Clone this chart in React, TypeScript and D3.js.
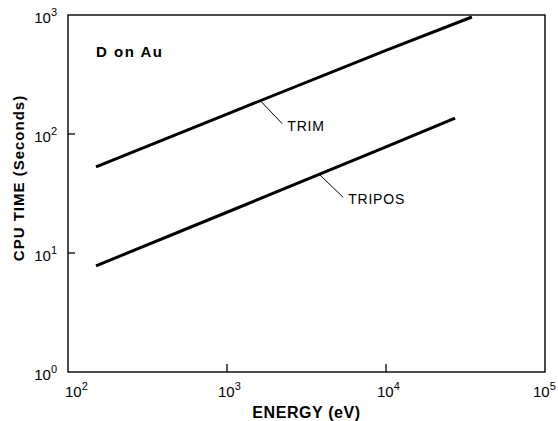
import React from 'react';
import * as d3 from 'd3';

// energies in eV, CPU times in seconds
const trimEnergy = [150, 1000, 10000, 34700];
const trimTime = [53, 147, 505, 962];
const triposEnergy = [150, 1000, 10000, 27200];
const triposTime = [7.8, 22, 78, 136];

const xTickExps = [2, 3, 4, 5];
const yTickExps = [0, 1, 2, 3];

const width = 558;
const height = 421;
const margin = { top: 15, right: 13, bottom: 49, left: 68 };

const App = () => {
  const x = d3.scaleLog().domain([1e2, 1e5]).range([margin.left, width - margin.right]);
  const y = d3.scaleLog().domain([1, 1e3]).range([height - margin.bottom, margin.top]);

  const line = d3.line<[number, number]>()
    .x(d => x(d[0]))
    .y(d => y(d[1]));

  const trim = trimEnergy.map((e, i) => [e, trimTime[i]] as [number, number]);
  const tripos = triposEnergy.map((e, i) => [e, triposTime[i]] as [number, number]);

  // pixel point on a drawn series at a given energy
  const at = (energy: number[], time: number[], e: number) => {
    const f = d3.scaleLog().domain(energy).range(time.map(t => y(t)));
    return [x(e), f(e)];
  };
  const trimAnchor = at(trimEnergy, trimTime, 1620);
  const triposAnchor = at(triposEnergy, triposTime, 3800);

  const x0 = x.range()[0], x1 = x.range()[1];
  const y0 = y.range()[0], y1 = y.range()[1];
  const font = 'Liberation Sans, Arial, sans-serif';

  return (
    <svg width={width} height={height} style={{ position: 'absolute', left: 0, top: 0, background: '#fff' }}
      fontFamily={font}>
      <rect x={x0} y={y1} width={x1 - x0} height={y0 - y1} fill="none" stroke="#000" strokeWidth={1.4} />

      {yTickExps.map(p => (
        <g key={'y' + p}>
          {p > 0 && p < 3 && (
            <line x1={x0} x2={x0 + 7} y1={y(10 ** p)} y2={y(10 ** p)} stroke="#000" strokeWidth={1.3} />
          )}
          <text x={x0 - 11} y={y(10 ** p) + 8} textAnchor="end" fontSize={15} fill="#000">
            10<tspan dy={-7} fontSize={11}>{p}</tspan>
          </text>
        </g>
      ))}

      {xTickExps.map(p => (
        <g key={'x' + p}>
          {p > 2 && p < 5 && (
            <line x1={x(10 ** p)} x2={x(10 ** p)} y1={y0} y2={y0 - 8} stroke="#000" strokeWidth={1.3} />
          )}
          <text x={Math.min(Math.max(x(10 ** p) - 9, x0 - 3), width - 25)} y={y0 + 25} fontSize={15} fill="#000">
            10<tspan dy={-7} fontSize={11}>{p}</tspan>
          </text>
        </g>
      ))}

      <path d={line(trim) ?? ''} fill="none" stroke="#000" strokeWidth={3} />
      <path d={line(tripos) ?? ''} fill="none" stroke="#000" strokeWidth={3} />

      <line x1={trimAnchor[0]} y1={trimAnchor[1]} x2={trimAnchor[0] + 22} y2={trimAnchor[1] + 23}
        stroke="#000" strokeWidth={1} />
      <text x={trimAnchor[0] + 27} y={trimAnchor[1] + 30} fontSize={14} fill="#000" letterSpacing={0.8}>TRIM</text>

      <line x1={triposAnchor[0]} y1={triposAnchor[1]} x2={triposAnchor[0] + 24} y2={triposAnchor[1] + 23}
        stroke="#000" strokeWidth={1} />
      <text x={triposAnchor[0] + 29} y={triposAnchor[1] + 30} fontSize={14} fill="#000" letterSpacing={0.8}>TRIPOS</text>

      <text x={96} y={57} fontSize={15} fontWeight="bold" fill="#000" letterSpacing={1.5}>D on Au</text>

      <text x={(x0 + x1) / 2} y={418} textAnchor="middle" fontSize={16} fontWeight="bold" fill="#000"
        letterSpacing={0.6}>ENERGY (eV)</text>
      <text transform="translate(24,178) rotate(-90)" textAnchor="middle" fontSize={15}
        fontWeight="bold" fill="#000" letterSpacing={1}>CPU TIME (Seconds)</text>
    </svg>
  );
};

export default App;
